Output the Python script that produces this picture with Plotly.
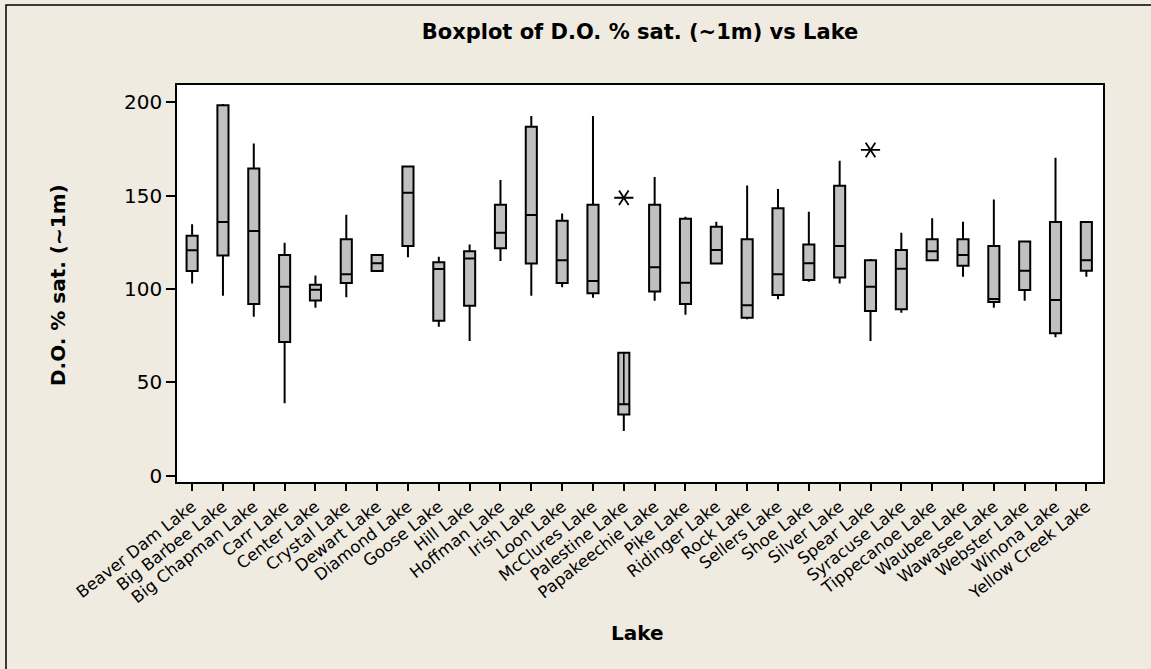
import plotly.graph_objects as go

lakes = ["Beaver Dam Lake", "Big Barbee Lake", "Big Chapman Lake", "Carr Lake", "Center Lake",
         "Crystal Lake", "Dewart Lake", "Diamond Lake", "Goose Lake", "Hill Lake",
         "Hoffman Lake", "Irish Lake", "Loon Lake", "McClures Lake", "Palestine Lake",
         "Papakeechie Lake", "Pike Lake", "Ridinger Lake", "Rock Lake", "Sellers Lake",
         "Shoe Lake", "Silver Lake", "Spear Lake", "Syracuse Lake", "Tippecanoe Lake",
         "Waubee Lake", "Wawasee Lake", "Webster Lake", "Winona Lake", "Yellow Creek Lake"]

lower_whisker = [103.0, 96.4, 85.2, 38.8, 90.0, 95.6, 109.6, 117.0, 79.8, 72.1,
                 115.0, 96.4, 100.9, 95.3, 23.9, 93.7, 86.2, 113.6, 83.8, 94.5,
                 103.9, 103.0, 72.1, 87.3, 115.4, 106.6, 90.0, 93.7, 74.1, 106.6]
q1 = [109.6, 118.0, 92.0, 71.6, 93.9, 103.2, 109.6, 123.0, 83.0, 91.0,
      121.8, 113.6, 103.2, 97.7, 32.7, 98.6, 92.0, 113.6, 84.6, 96.8,
      104.8, 106.1, 88.2, 89.1, 115.4, 112.5, 93.0, 99.5, 76.3, 109.8]
median = [120.7, 135.9, 131.1, 101.2, 99.6, 107.9, 113.8, 151.6, 110.7, 116.4,
          130.2, 139.6, 115.4, 104.3, 38.2, 111.6, 103.4, 120.9, 91.3, 107.9,
          113.8, 123.0, 101.2, 110.9, 120.2, 118.2, 94.6, 109.8, 94.1, 115.4]
q3 = [128.5, 198.4, 164.6, 118.2, 102.3, 126.6, 118.2, 165.7, 114.3, 120.2,
      145.2, 186.9, 136.6, 145.2, 65.9, 145.2, 137.7, 133.4, 126.6, 143.2,
      123.9, 155.3, 115.4, 120.9, 126.6, 126.6, 123.0, 125.5, 135.9, 135.9]
upper_whisker = [134.7, 199.1, 178.0, 124.8, 107.3, 139.8, 118.2, 165.7, 117.3, 123.9,
                 158.4, 192.7, 140.5, 192.7, 65.9, 160.0, 138.7, 136.1, 155.5, 153.6,
                 141.4, 168.7, 116.1, 130.2, 137.9, 136.1, 148.0, 125.7, 170.3, 135.9]

outlier_lakes = ["Palestine Lake", "Spear Lake"]
outlier_values = [148.9, 174.5]

y_ticks = [0, 50, 100, 150, 200]

BG = "#EFEBE0"
FONT = "DejaVu Sans"

fig = go.Figure()

fig.add_trace(go.Box(
    x=lakes, q1=q1, median=median, q3=q3,
    lowerfence=lower_whisker, upperfence=upper_whisker,
    fillcolor="#C0C0C0", line=dict(color="black", width=2),
    whiskerwidth=0, width=0.36, boxpoints=False, hoverinfo="skip",
))

# inner line seen in Palestine Lake box (median to Q3)
pi = lakes.index("Palestine Lake")
fig.add_trace(go.Scatter(
    x=[lakes[pi], lakes[pi]], y=[median[pi], q3[pi]], mode="lines",
    line=dict(color="black", width=1.6), hoverinfo="skip",
))

for sym in ["y-left-open", "y-right-open"]:
    fig.add_trace(go.Scatter(
        x=outlier_lakes, y=outlier_values, mode="markers",
        marker=dict(symbol=sym, size=12, line=dict(color="black", width=1.8), color="black"),
        hoverinfo="skip",
    ))

fig.update_layout(
    width=1151, height=669,
    margin=dict(l=177, r=48, t=85, b=187),
    paper_bgcolor=BG, plot_bgcolor="white",
    showlegend=False,
    font=dict(family=FONT, color="black"),
    title=dict(text="<b>Boxplot of D.O. % sat. (~1m) vs Lake</b>",
               x=0.5, xref="paper", xanchor="center",
               y=1 - 32 / 669, yref="container", yanchor="middle",
               font=dict(family=FONT, size=21, color="black")),
    xaxis=dict(type="category", categoryorder="array", categoryarray=lakes,
               range=[-0.49, 29.54], showline=True, mirror=True, linecolor="black", linewidth=1.5,
               ticks="outside", ticklen=7, tickwidth=1.5, tickcolor="black",
               tickangle=-38, tickfont=dict(family=FONT, size=16.5, color="black"),
               showgrid=False, zeroline=False),
    yaxis=dict(range=[-3.4, 209.3], tickvals=y_ticks, showline=True, mirror=True,
               linecolor="black", linewidth=1.5,
               ticks="outside", ticklen=9, tickwidth=1.5, tickcolor="black",
               tickfont=dict(family=FONT, size=20, color="black"),
               showgrid=False, zeroline=False),
    annotations=[
        dict(text="<b>Lake</b>", xref="paper", yref="paper", x=(637 - 177) / 926, y=(482 - 633) / 397,
             xanchor="center", yanchor="middle", showarrow=False,
             font=dict(family=FONT, size=20, color="black")),
        dict(text="<b>D.O. % sat. (~1m)</b>", xref="paper", yref="paper", x=(58 - 177) / 926,
             y=(482 - 285) / 397, xanchor="center", yanchor="middle", textangle=-90, showarrow=False,
             font=dict(family=FONT, size=20, color="black")),
    ],
    shapes=[
        dict(type="rect", xref="paper", yref="paper",
             x0=(6 - 177) / 926, x1=(1165 - 177) / 926,
             y0=(482 - 690) / 397, y1=(482 - 5) / 397,
             line=dict(color="black", width=1.5), fillcolor="rgba(0,0,0,0)", layer="below"),
    ],
)

fig.write_html(
    "out.html",
    config={"displayModeBar": False},
    post_script="document.body.style.margin='0';document.body.style.background='%s';" % BG,
)
